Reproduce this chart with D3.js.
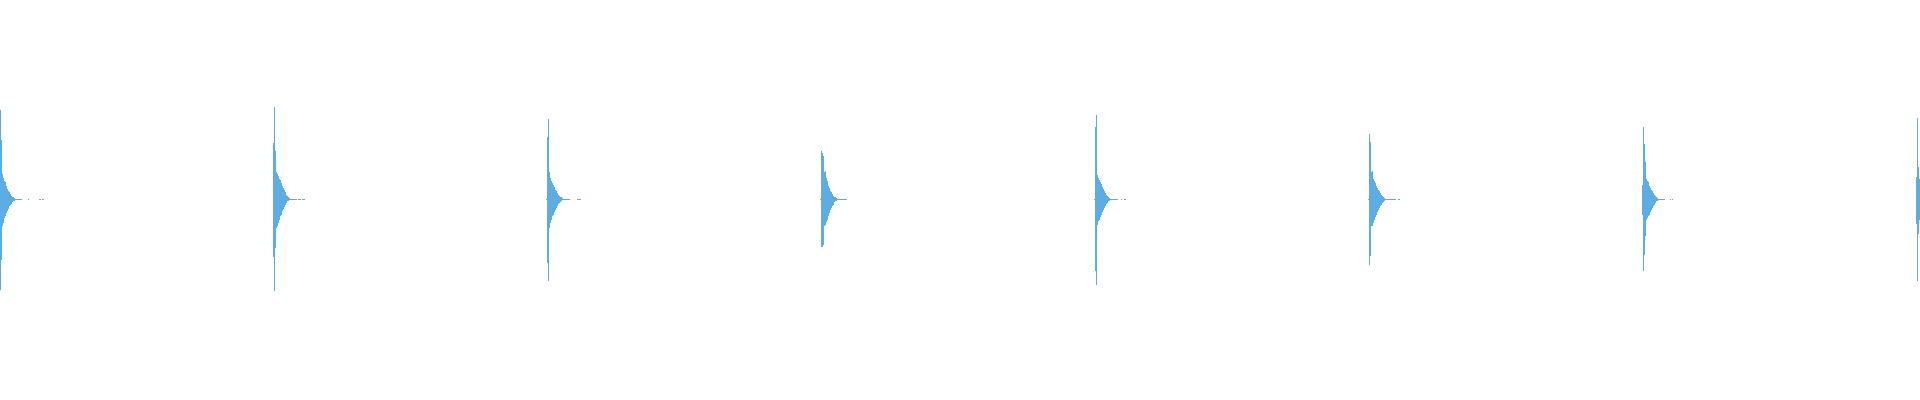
<!DOCTYPE html>
<html>
<head>
<meta charset="utf-8">
<script src="https://cdn.jsdelivr.net/npm/d3@7"></script>
<style>
  body { margin: 0; background: #fff; }
  svg { display: block; }
</style>
</head>
<body>
<div id="viz"></div>
<script>
// waveform of 8 drum hits, one value per display bin, levels in % of full scale
const onsets = [0, 273, 546, 820, 1094, 1368, 1642, 1916];

const peakHigh = [
  [45, 30, 13, 11, 9.5, 9, 7, 5.5, 4.5, 4, 3, 2, 1.5, 1.5, 1, 0.5, .25, .25, .25, .25, .25, .25, 0, 0, 0, 0, 0, 0, .25, 0, 0, 0, 0, 0, 0, 0, 0, 0, 0, .25, .25, 0, .25, .25],
  [28.5, 46.5, 24.5, 14, 13, 12, 10.5, 10, 8.5, 7, 6, 5, 4, 2.5, 2, 1.5, 1, .25, .25, .25, .25, .25, .25, .25, 0, .25, .25, .25, 0, .25, .25, .25],
  [.25, 31.5, 40.5, 14, 11, 9.5, 8.5, 7.5, 6.5, 5, 4.5, 3.5, 2.5, 2, 1.5, 1.5, 1, .25, .25, .25, .25, .25, .25, .25, 0, 0, 0, 0, 0, 0, 0, .25, .25, .25, .25],
  [.25, 24.5, 23.5, 22, 14, 14.5, 11, 9.5, 7, 6, 4.5, 4, 3, 2, 1.5, 1.5, 1, .35, .35, .35, .35, .35, .35, .35, .35, .35, .35],
  [.25, 36.5, 42.5, 12.5, 11, 10, 9, 8, 6.5, 5.5, 4.5, 3.5, 2.5, 2, 1.5, 1, .5, .25, .25, .25, .25, .25, .25, .25, 0, 0, 0, .25, 0, 0, .25, .25],
  [.25, 33, 29, 14, 14.5, 10.5, 9.5, 8.5, 7, 6, 5, 4.5, 3.5, 2.5, 2, 1.5, 1, .5, .25, .25, .25, .25, .25, .25, .25, .25, .25, .25, 0, 0, .25, .25],
  [7.5, 36.5, 28, 19, 10.5, 9.5, 9, 7, 6, 5, 4.5, 3.5, 2.5, 2, 1.5, 1, .5, .25, .25, .25, .25, .25, .25, 0, 0, 0, 0, 0, .25, 0, .25],
  [11.5, 41, 16.5, 10.5]
];

const peakLow = [
  [-45.5, -30.5, -13.5, -12, -9.5, -8.5, -7, -6, -5, -3.5, -3, -2.5, -1.5, -1, -1, -0.5, -.25, -.25, -.25, -.25, -.25, -.25, 0, 0, 0, 0, 0, 0, -.25, 0, 0, 0, 0, 0, 0, 0, 0, 0, 0, -.25, -.25, 0, -.25, -.25],
  [-29, -46, -24.5, -14.5, -13.5, -12, -10.5, -8.5, -8, -6, -5, -4, -3, -2, -1, -1, -0.5, -.25, -.25, -.25, -.25, -.25, -.25, -.25, 0, -.25, -.25, -.25, 0, -.25, -.25, -.25],
  [-.25, -32, -41, -14.5, -12, -10.5, -8.5, -8, -6.5, -5.5, -4.5, -3.5, -2.5, -2, -1.5, -1, -0.5, -.25, -.25, -.25, -.25, -.25, -.25, -.25, 0, 0, 0, 0, 0, 0, 0, -.25, -.25, -.25, -.25],
  [-.25, -24, -24, -23, -13.5, -13, -11.5, -10.5, -8.5, -7, -5.5, -4.5, -3.5, -3, -1.5, -1, -1, -.35, -.35, -.35, -.35, -.35, -.35, -.35, -.35, -.35, -.35],
  [-.25, -36, -43, -13, -11, -10.5, -9, -8, -6.5, -5.5, -4.5, -3.5, -2.5, -2, -1, -1, -.5, -.25, -.25, -.25, -.25, -.25, -.25, -.25, 0, 0, 0, -.25, 0, 0, -.25, -.25],
  [-.25, -33, -28.5, -13.5, -13.5, -12, -10.5, -9, -8, -6.5, -5.5, -4.5, -3.5, -3, -2, -1.5, -1, -.5, -.25, -.25, -.25, -.25, -.25, -.25, -.25, -.25, -.25, -.25, 0, 0, -.25, -.25],
  [-8, -36, -28, -18.5, -10.5, -9.5, -8.5, -8, -6.5, -5.5, -4.5, -3.5, -3, -2, -1, -1, -.5, -.25, -.25, -.25, -.25, -.25, -.25, 0, 0, 0, 0, 0, -.25, 0, -.25],
  [-12.5, -41, -17.5, -10.5]
];

const totalBins = 1920;
const width = 1920;
const height = 400;
const waveColor = "#5dade2";

const bins = onsets.flatMap((start, h) =>
  peakHigh[h].map((hi, i) => ({bin: start + i, hi: hi, lo: peakLow[h][i]})))
  .filter(d => d.hi !== 0 || d.lo !== 0);

const x = d3.scaleLinear().domain([0, totalBins]).range([0, width]);
const y = d3.scaleLinear().domain([-100, 100]).range([height - 1, 0]);

const svg = d3.select("#viz").append("svg")
    .attr("width", width)
    .attr("height", height)
    .attr("viewBox", [0, 0, width, height]);

svg.append("g")
    .attr("fill", waveColor)
    .attr("shape-rendering", "crispEdges")
  .selectAll("rect")
  .data(bins)
  .join("rect")
    .attr("x", d => x(d.bin))
    .attr("width", d => x(d.bin + 1) - x(d.bin))
    .attr("y", d => y(d.hi))
    .attr("height", d => Math.max(1, y(d.lo) - y(d.hi)));
</script>
</body>
</html>
